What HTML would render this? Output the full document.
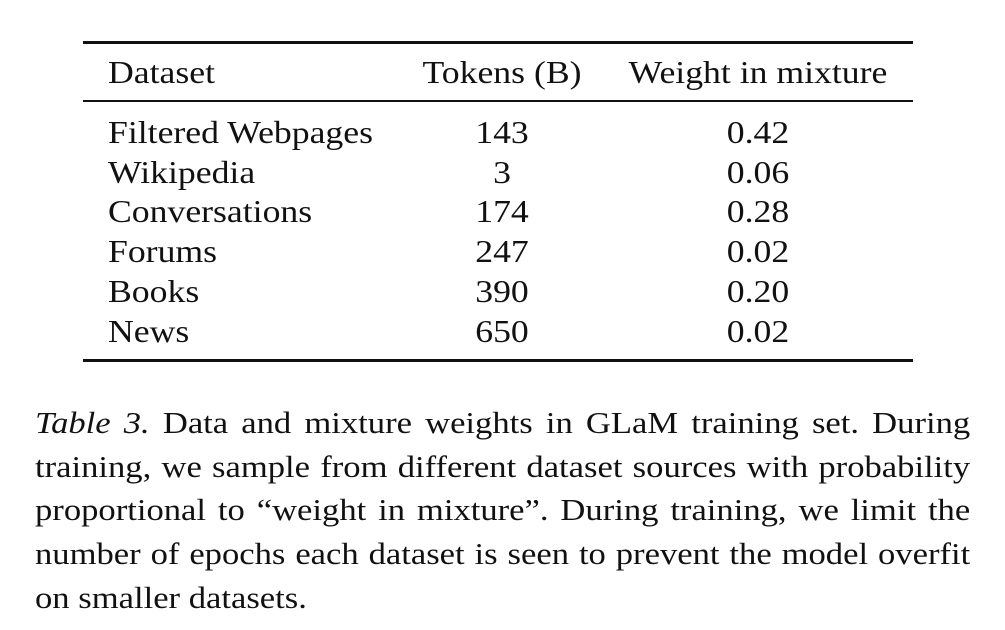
<!DOCTYPE html>
<html><head><meta charset="utf-8">
<style>
body{margin:0;width:1005px;height:630px;background:#fff;position:relative;overflow:hidden;font-family:"Liberation Serif",serif;color:#111;}
.rule{position:absolute;left:83px;width:830px;background:#111;}
.t{position:absolute;font-size:32px;line-height:40px;white-space:nowrap;transform:scaleX(1.115);transform-origin:left center;}
.c{transform:translateX(-50%) scaleX(1.115);transform-origin:center center;}
#caption{position:absolute;left:35px;top:401px;width:838px;font-size:31px;line-height:43.7px;transform:scaleX(1.116);transform-origin:left top;}
#caption div{text-align:justify;text-align-last:justify;white-space:nowrap;}
#caption div.last{text-align-last:left;}
</style></head><body>
<div class="rule" style="top:41px;height:3px"></div>
<div class="rule" style="top:100px;height:2px"></div>
<div class="rule" style="top:359px;height:3px"></div>
<div class="t" style="left:108px;top:52px">Dataset</div>
<div class="t c" style="left:502px;top:52px">Tokens (B)</div>
<div class="t c" style="left:758px;top:52px">Weight in mixture</div>
<div id="rows"></div>
<div id="caption">
<div><i>Table 3.</i> Data and mixture weights in GLaM training set. During</div>
<div>training, we sample from different dataset sources with probability</div>
<div>proportional to “weight in mixture”. During training, we limit the</div>
<div>number of epochs each dataset is seen to prevent the model overfit</div>
<div class="last">on smaller datasets.</div>
</div>
<script>
const datasets=["Filtered Webpages","Wikipedia","Conversations","Forums","Books","News"];
const tokens=["143","3","174","247","390","650"];
const weights=["0.42","0.06","0.28","0.02","0.20","0.02"];
const rows=document.getElementById('rows');
datasets.forEach((d,i)=>{
  const top=112+i*39.7;
  const a=document.createElement('div');a.className='t';a.style.left='108px';a.style.top=top+'px';a.textContent=d;
  
  
  const b=document.createElement('div');b.className='t c';b.style.left='502px';b.style.top=top+'px';b.textContent=tokens[i];
  
  
  const w=document.createElement('div');w.className='t c';w.style.left='758px';w.style.top=top+'px';w.textContent=weights[i];
  
  
  rows.append(a,b,w);
});
</script>
</body></html>
